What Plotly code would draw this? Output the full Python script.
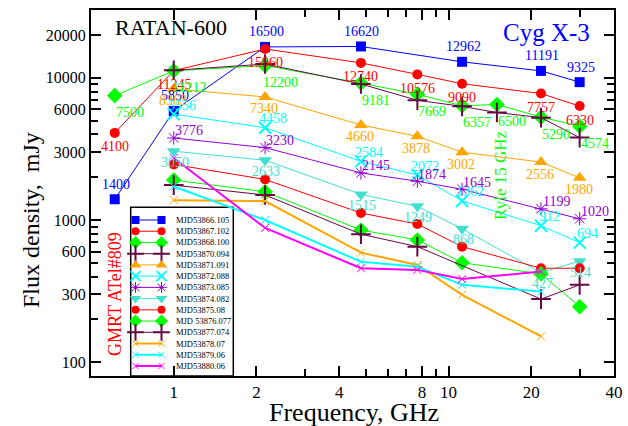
import numpy as np
import plotly.graph_objects as go

# ---------------- data (GHz, mJy) ----------------
f_53866 = [0.61, 1.0, 2.15, 4.8, 11.2, 21.7, 30]
v_53866 = [1400, 5850, 16500, 16620, 12962, 11191, 9325]

f_53867 = [0.61, 1.0, 2.15, 4.8, 7.7, 11.2, 21.7, 30]
v_53867 = [4100, 11245, 15960, 12740, 10576, 9090, 7757, 6330]

f_53868 = [0.61, 1.0, 2.15, 4.8, 7.7, 11.2, 15, 21.7, 30]
v_53868 = [7500, 11212, 12200, 9181, 7669, 6357, 6500, 5290, 4574]

f_53870 = [1.0, 2.15, 4.8, 7.7, 11.2, 15, 21.7, 30]
v_53870 = [11300, 12500, 9050, 6950, 6300, 5700, 5250, 3800]

f_53871 = [1.0, 2.15, 4.8, 7.7, 11.2, 21.7, 30]
v_53871 = [8363, 7340, 4660, 3878, 3002, 2556, 1980]

f_53872 = [1.0, 2.15, 4.8, 7.7, 11.2, 21.7, 30]
v_53872 = [5556, 4458, 2584, 2072, 1362, 912, 694]

f_53873 = [1.0, 2.15, 4.8, 7.7, 11.2, 21.7, 30]
v_53873 = [3776, 3230, 2145, 1874, 1645, 1199, 1020]

f_53874 = [1.0, 2.15, 4.8, 7.7, 11.2, 21.7, 30]
v_53874 = [3050, 2633, 1515, 1249, 868, 427, 514]

f_53875 = [1.0, 2.15, 4.8, 7.7, 11.2, 21.7, 30]
v_53875 = [2460, 1930, 1120, 937, 650, 458, 458]

f_53876 = [1.0, 2.15, 4.8, 7.7, 11.2, 21.7, 30]
v_53876 = [1910, 1580, 850, 724, 501, 418, 246]

f_53877 = [1.0, 2.15, 4.8, 7.7, 21.7, 30]
v_53877 = [1760, 1500, 795, 650, 278, 350]

f_53878 = [1.0, 2.15, 4.8, 7.7, 11.2, 21.7]
v_53878 = [1380, 1360, 590, 483, 298, 152]

f_53879 = [1.0, 2.15, 4.8, 7.7, 11.2, 21.7]
v_53879 = [1720, 1000, 509, 470, 350, 314]

f_53880 = [1.0, 2.15, 4.8, 7.7, 11.2, 21.7]
v_53880 = [2730, 880, 458, 446, 385, 434]

names = ["MJD53866.105", "MJD53867.102", "MJD53868.100", "MJD53870.094",
         "MJD53871.091", "MJD53872.088", "MJD53873.085", "MJD53874.082",
         "MJD53875.08", "MJD 53876.077", "MJD53877.074", "MJD53878.07",
         "MJD53879.06", "MJD53880.06"]

x_tickvals = [1, 2, 4, 8, 10, 20, 40]
x_minor = [3, 5, 6, 7, 9, 30]
y_tickvals = [100, 300, 600, 1000, 3000, 6000, 10000, 20000]
y_minor = [200, 400, 500, 700, 800, 900, 2000, 4000, 5000, 7000, 8000, 9000]

# ---------------- styles ----------------
BLUE, RED, GREEN, MAROON = "#0000ff", "#ff0000", "#00ff00", "#670748"
ORANGE, CYAN, VIOLET, TURQ, MAGENTA = "#ffa500", "#00ffff", "#9400d3", "#40e0d0", "#ff00ff"

series = [
    # f, v, color, symbol, size, open-symbol line width (0 = filled), line width, label (xshift, yshift)
    (f_53866, v_53866, BLUE, "square", 10, 0, 1, (1, 15)),
    (f_53867, v_53867, RED, "circle", 10, 0, 1, (0, -14)),
    (f_53868, v_53868, GREEN, "diamond", 12, 0, 1, (15, -17)),
    (f_53870, v_53870, MAROON, "cross-thin-open", 14, 2, 1, None),
    (f_53871, v_53871, ORANGE, "triangle-up", 12, 0, 1, (-1, -12)),
    (f_53872, v_53872, CYAN, "x-thin-open", 12, 2, 1, (8, 9)),
    (f_53873, v_53873, VIOLET, "asterisk-open", 11, 1, 1, (15, 7)),
    (f_53874, v_53874, TURQ, "triangle-down", 12, 0, 1, (1, -11)),
    (f_53875, v_53875, RED, "circle", 10, 0, 1, None),
    (f_53876, v_53876, GREEN, "diamond", 12, 0, 1, None),
    (f_53877, v_53877, MAROON, "cross-thin-open", 14, 2, 1, None),
    (f_53878, v_53878, ORANGE, "x-thin-open", 8, 1, 2, None),
    (f_53879, v_53879, CYAN, "x-thin-open", 8, 1, 2, None),
    (f_53880, v_53880, MAGENTA, "x-thin-open", 8, 1, 2, None),
]

W, H = 628, 426
L, R, T, B = 91, 14, 10, 50
X0, X1, Y0, Y1 = L, W - R, T, H - B
SERIF = "Liberation Serif"


def px(x):
    return (x - X0) / (X1 - X0)


def py(y):
    return (Y1 - y) / (Y1 - Y0)


def marker(color, symbol, size, mw):
    if mw:
        return dict(symbol=symbol, size=size, color=color,
                    line=dict(color=color, width=mw))
    return dict(symbol=symbol, size=size, color=color, line=dict(width=0))


def text_at(x, y, text, size, color, angle=0, anchor="center"):
    return dict(x=px(x), y=py(y), xref="paper", yref="paper", text=text,
                showarrow=False, xanchor=anchor, yanchor="middle",
                textangle=angle, font=dict(family=SERIF, size=size, color=color))


fig = go.Figure()
annotations = []

for f, v, color, sym, size, mw, lw, lab in series:
    fig.add_trace(go.Scatter(
        x=f, y=v, mode="lines+markers",
        line=dict(color=color, width=lw),
        marker=marker(color, sym, size, mw),
        showlegend=False, cliponaxis=False))
    if lab is not None:
        for fi, vi in zip(f, v):
            annotations.append(dict(
                x=np.log10(fi), y=np.log10(vi), xref="x", yref="y",
                text=str(vi), showarrow=False, xanchor="center", yanchor="middle",
                xshift=lab[0], yshift=lab[1],
                font=dict(family=SERIF, size=14, color=color)))

# ---------------- custom legend (pixel-unit overlay axes) ----------------
leg_left, leg_right, leg_top = 130.7, 233.3, 207.3
row0, row_step = 220.0, 11.23
sx0, sx1, tx = 135.5, 161.5, 174
for i, (f, v, color, sym, size, mw, lw, lab) in enumerate(series):
    yy = row0 + i * row_step
    fig.add_trace(go.Scatter(
        x=[sx0, sx1], y=[yy, yy], xaxis="x2", yaxis="y2",
        mode="lines+markers", line=dict(color=color, width=lw),
        marker=marker(color, sym, max(6, size - 2), mw),
        showlegend=False, hoverinfo="skip"))
    annotations.append(text_at(tx, yy, names[i], 8.5, "black", anchor="left"))

shapes = [dict(type="rect", xref="x2", yref="y2", x0=leg_left, x1=leg_right,
               y0=leg_top, y1=Y1, fillcolor="white",
               line=dict(color="black", width=1.5), layer="below")]

# ---------------- texts ----------------
annotations += [
    text_at(170.5, 27, "RATAN-600", 22, "black"),
    text_at(546, 33, "Cyg X-3", 25, BLUE),
    text_at(115, 294, "GMRT ATel#809", 18, RED, angle=-90),
    text_at(501, 176, "Ryle 15 GHz", 17, GREEN, angle=-90),
    text_at(354, 412, "Frequency, GHz", 26, "black"),
    text_at(31, 220, "Flux density,  mJy", 24, "black", angle=-90),
]

axis_common = dict(type="log", showline=True, linewidth=2, linecolor="black",
                   mirror="ticks", ticks="inside", ticklen=10, tickwidth=1.5,
                   tickcolor="black", showgrid=False, zeroline=False,
                   automargin=False)

fig.update_layout(
    width=W, height=H,
    margin=dict(l=L, r=R, t=T, b=B, autoexpand=False),
    plot_bgcolor="white", paper_bgcolor="white", showlegend=False,
    font=dict(family=SERIF, color="black"),
    xaxis=dict(**axis_common, range=[np.log10(0.5), np.log10(40)],
               tickmode="array", tickvals=x_tickvals,
               ticktext=[str(t) for t in x_tickvals],
               tickfont=dict(family=SERIF, size=17),
               minor=dict(tickvals=x_minor, ticks="inside", ticklen=7,
                          tickwidth=1.5, tickcolor="black", showgrid=False)),
    yaxis=dict(**axis_common, range=[np.log10(80), np.log10(30000)],
               tickmode="array", tickvals=y_tickvals,
               ticktext=[str(t) for t in y_tickvals],
               tickfont=dict(family=SERIF, size=16),
               minor=dict(tickvals=y_minor, ticks="inside", ticklen=7,
                          tickwidth=1.5, tickcolor="black", showgrid=False)),
    xaxis2=dict(overlaying="x", anchor="y2", range=[X0, X1], visible=False),
    yaxis2=dict(overlaying="y", anchor="x2", range=[Y1, Y0], visible=False),
    annotations=annotations, shapes=shapes,
)

fig.write_html("out.html",
               config={"displayModeBar": False},
               post_script="document.body.style.margin='0px';"
                           "document.body.style.overflow='hidden';")
